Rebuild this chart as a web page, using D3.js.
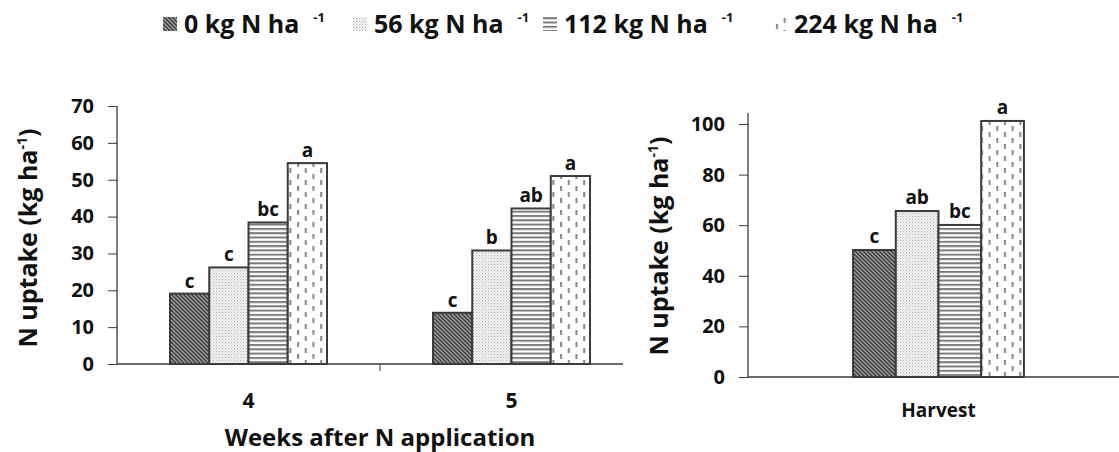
<!DOCTYPE html>
<html>
<head>
<meta charset="utf-8">
<script src="https://cdn.jsdelivr.net/npm/d3@7"></script>
<style>
  body { margin: 0; background: #fff; }
  svg { display: block; font-family: "Open Sans", sans-serif; font-weight: bold; }
</style>
</head>
<body>
<div id="chart"></div>
<script>
// data
const series = ["0 kg N ha", "56 kg N ha", "112 kg N ha", "224 kg N ha"];
const weeks = ["4", "5"];
const weekValues = {
  "4": [19.1, 26.2, 38.4, 54.5],
  "5": [13.9, 30.8, 42.2, 51.0]
};
const weekLetters = {
  "4": ["c", "c", "bc", "a"],
  "5": ["c", "b", "ab", "a"]
};
const harvest = ["Harvest"];
const harvestValues = [50.2, 65.6, 60.1, 101.2];
const harvestLetters = ["c", "ab", "bc", "a"];
const leftTicks = [0, 10, 20, 30, 40, 50, 60, 70];
const rightTicks = [0, 20, 40, 60, 80, 100];

const width = 1119, height = 452;
const ink = "#3a3a3a";

const svg = d3.select("#chart").append("svg")
    .attr("width", width)
    .attr("height", height);

// fill patterns, one per N rate
const defs = svg.append("defs");

const p0 = defs.append("pattern").attr("id", "pat0")
    .attr("patternUnits", "userSpaceOnUse").attr("width", 4).attr("height", 4);
p0.append("rect").attr("width", 4).attr("height", 4).attr("fill", "#a0a0a0");
p0.append("path").attr("d", "M-1,-1L5,5M-1,3L1,5M3,-1L5,1")
    .attr("stroke", "#3a3a3a").attr("stroke-width", 1.4);

const p1 = defs.append("pattern").attr("id", "pat1")
    .attr("patternUnits", "userSpaceOnUse").attr("width", 3).attr("height", 3);
p1.append("rect").attr("width", 3).attr("height", 3).attr("fill", "#f8f8f8");
p1.append("rect").attr("width", 1.2).attr("height", 1.2).attr("fill", "#b4b4b4");
p1.append("rect").attr("x", 1.5).attr("y", 1.5).attr("width", 1.2).attr("height", 1.2).attr("fill", "#cccccc");

const p2 = defs.append("pattern").attr("id", "pat2")
    .attr("patternUnits", "userSpaceOnUse").attr("width", 4).attr("height", 4.3);
p2.append("rect").attr("width", 4).attr("height", 4.3).attr("fill", "#fff");
p2.append("rect").attr("width", 4).attr("height", 2).attr("fill", "#7a7a7a");

const p3 = defs.append("pattern").attr("id", "pat3")
    .attr("patternUnits", "userSpaceOnUse").attr("width", 15.4).attr("height", 12);
p3.append("rect").attr("width", 15.4).attr("height", 12).attr("fill", "#fff");
p3.append("rect").attr("x", 3).attr("y", 0).attr("width", 2).attr("height", 5).attr("fill", "#858585");
p3.append("rect").attr("x", 10.7).attr("y", 6).attr("width", 2).attr("height", 5).attr("fill", "#858585");

const fills = series.map((s, i) => `url(#pat${i})`);

// ---- legend
const legendX = [163, 353, 543, 773];
const legend = svg.append("g");
series.forEach((s, i) => {
  const g = legend.append("g").attr("transform", `translate(${legendX[i]},0)`);
  g.append("rect").attr("x", 0).attr("y", 17).attr("width", 14).attr("height", 14)
      .attr("fill", fills[i]);
  const t = g.append("text").attr("x", 21).attr("y", 33)
      .attr("font-size", 25).attr("fill", "#111");
  t.append("tspan").text(s);
  t.append("tspan").attr("dx", 14).attr("dy", -11).attr("font-size", 13).text("-1");
});

// ---- left panel: weeks after N application
const yL = d3.scaleLinear().domain([0, 70]).range([364, 106]);
const x0 = d3.scaleBand().domain(weeks).range([117, 643]);
const x1 = d3.scaleBand().domain(series).range([0, x0.bandwidth()]).paddingOuter(1.35);

const left = svg.append("g");

function styleAxis(g) {
  g.select(".domain").remove();
  g.selectAll("line").attr("stroke", ink);
  g.selectAll("text").attr("font-size", 20).attr("fill", "#111")
      .attr("font-family", "'Open Sans', sans-serif");
}

left.append("g")
    .attr("transform", "translate(117,0)")
    .call(d3.axisLeft(yL).tickValues(leftTicks).tickSize(9).tickPadding(14))
    .call(styleAxis);
left.append("line")
    .attr("x1", 117).attr("x2", 117).attr("y1", yL(70)).attr("y2", yL(0))
    .attr("stroke", ink).attr("stroke-width", 1.3);

const groupsL = left.selectAll(".grp")
    .data(weeks)
    .join("g")
    .attr("class", "grp")
    .attr("transform", d => `translate(${x0(d)},0)`);

groupsL.selectAll("rect")
    .data(d => weekValues[d].map((v, i) => ({ v, i, lab: weekLetters[d][i] })))
    .join("rect")
    .attr("x", d => x1(series[d.i]))
    .attr("y", d => yL(d.v))
    .attr("width", x1.bandwidth())
    .attr("height", d => yL(0) - yL(d.v))
    .attr("fill", d => fills[d.i])
    .attr("stroke", ink)
    .attr("stroke-width", 2);

groupsL.selectAll(".lab")
    .data(d => weekValues[d].map((v, i) => ({ v, i, lab: weekLetters[d][i] })))
    .join("text")
    .attr("class", "lab")
    .attr("x", d => x1(series[d.i]) + x1.bandwidth() / 2)
    .attr("y", d => yL(d.v) - 6)
    .attr("text-anchor", "middle")
    .attr("font-size", 19)
    .attr("fill", "#111")
    .text(d => d.lab);

// x axis with group boundary ticks
left.append("line")
    .attr("x1", 117).attr("x2", 623).attr("y1", yL(0)).attr("y2", yL(0))
    .attr("stroke", ink).attr("stroke-width", 1.3);
left.selectAll(".btick")
    .data(weeks.slice(1))
    .join("line")
    .attr("x1", d => x0(d)).attr("x2", d => x0(d))
    .attr("y1", yL(0)).attr("y2", yL(0) + 7)
    .attr("stroke", ink);
left.selectAll(".xlab")
    .data(weeks)
    .join("text")
    .attr("x", d => x0(d) + x0.bandwidth() / 2)
    .attr("y", 408)
    .attr("text-anchor", "middle")
    .attr("font-size", 21)
    .attr("fill", "#111")
    .text(d => d);

left.append("text")
    .attr("x", 380).attr("y", 446)
    .attr("text-anchor", "middle")
    .attr("font-size", 24)
    .attr("fill", "#111")
    .text("Weeks after N application");

function yTitle(g, x, y) {
  const t = g.append("text")
      .attr("transform", `translate(${x},${y}) rotate(-90)`)
      .attr("text-anchor", "middle")
      .attr("font-size", 25)
      .attr("fill", "#111");
  t.append("tspan").text("N uptake  (kg ha");
  t.append("tspan").attr("dy", -10).attr("font-size", 14).text("-1");
  t.append("tspan").attr("dy", 10).text(")");
}
yTitle(left, 37, 238);

// ---- right panel: harvest
const yR = d3.scaleLinear().domain([0, 100]).range([377, 124]);
const xR = d3.scaleBand().domain(harvest).range([748, 1129]);
const xR1 = d3.scaleBand().domain(series).range([0, xR.bandwidth()]).paddingOuter(2.46);

const right = svg.append("g");

right.append("g")
    .attr("transform", "translate(748,0)")
    .call(d3.axisLeft(yR).tickValues(rightTicks).tickSize(9).tickPadding(14))
    .call(styleAxis);
right.append("line")
    .attr("x1", 748).attr("x2", 748).attr("y1", yR(104.3)).attr("y2", yR(0))
    .attr("stroke", ink).attr("stroke-width", 1.3);

const hData = harvestValues.map((v, i) => ({ v, i, lab: harvestLetters[i] }));

right.selectAll(".bar")
    .data(hData)
    .join("rect")
    .attr("class", "bar")
    .attr("x", d => xR("Harvest") + xR1(series[d.i]))
    .attr("y", d => yR(d.v))
    .attr("width", xR1.bandwidth())
    .attr("height", d => yR(0) - yR(d.v))
    .attr("fill", d => fills[d.i])
    .attr("stroke", ink)
    .attr("stroke-width", 2);

right.selectAll(".lab")
    .data(hData)
    .join("text")
    .attr("class", "lab")
    .attr("x", d => xR("Harvest") + xR1(series[d.i]) + xR1.bandwidth() / 2)
    .attr("y", d => yR(d.v) - 7)
    .attr("text-anchor", "middle")
    .attr("font-size", 19)
    .attr("fill", "#111")
    .text(d => d.lab);

right.append("line")
    .attr("x1", 748).attr("x2", width).attr("y1", yR(0)).attr("y2", yR(0))
    .attr("stroke", ink).attr("stroke-width", 1.3);

right.append("text")
    .attr("x", xR("Harvest") + xR.bandwidth() / 2)
    .attr("y", 417)
    .attr("text-anchor", "middle")
    .attr("font-size", 19)
    .attr("fill", "#111")
    .text("Harvest");

yTitle(right, 668, 246);
</script>
</body>
</html>
